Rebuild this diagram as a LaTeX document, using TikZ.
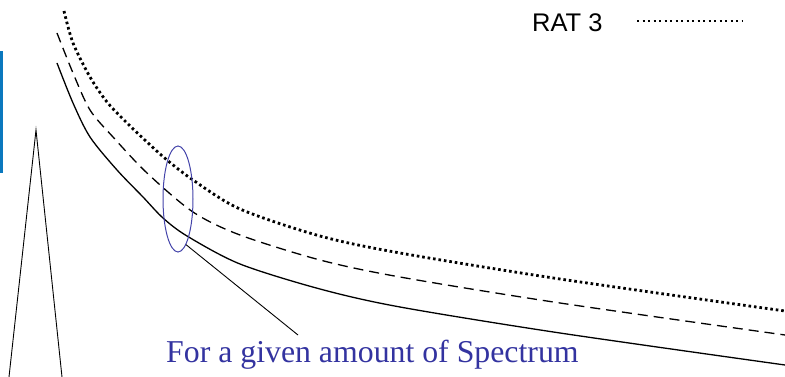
\documentclass[tikz,border=0pt]{standalone}
\usepackage{fontspec}
\setmainfont{Liberation Serif}
\newfontfamily\arial{Liberation Sans}
\usetikzlibrary{shapes.geometric}
\definecolor{barblue}{HTML}{0A78BE}
\definecolor{ellblue}{HTML}{4444AA}
\definecolor{txtblue}{HTML}{3333A0}
\tikzset{
  curvesolid/.style={line width=1.3pt, black},
  curvedashed/.style={line width=1.3pt, black, dash pattern=on 10pt off 6pt},
  curvedotted/.style={line width=2.8pt, black, dash pattern=on 2.6pt off 2.9pt},
  legdotted/.style={line width=2.4pt, black, dash pattern=on 2.2pt off 3.3pt},
  thinline/.style={line width=0.9pt, black},
}
\begin{document}
\begin{tikzpicture}[x=1pt,y=-1pt]
\useasboundingbox (0,0) rectangle (785,377);
% blue bar
\fill[barblue] (0,51) rectangle (3,173);
% tower
\coordinate (apex) at (36,130);
\coordinate (legl) at (9,377);
\coordinate (legr) at (62,377);
\draw[thinline] (legl) -- (apex) -- (legr);
% curves
\draw[curvesolid] plot[smooth, tension=0.5] coordinates {(57,63) (73,103) (90,137) (117,170) (143,197) (163,218) (187,236) (240,264) (320,289) (400,307) (560,333) (785,365)};
\draw[curvedashed] plot[smooth, tension=0.5] coordinates {(57,33) (73,73) (90,110) (113,137) (147,173) (193,212) (240,235) (320,260) (400,277) (560,303) (785,335)};
\draw[curvedotted] plot[smooth, tension=0.5] coordinates {(64,11) (73,43) (90,77) (107,102) (127,123) (148,143) (167,160) (193,180) (240,209) (320,236) (400,253) (560,279) (785,311)};
% ellipse
\node[draw=ellblue, line width=1pt, ellipse, minimum width=30pt, minimum height=106pt, inner sep=0pt] (ell) at (178,199) {};
% label
\node[anchor=base west, inner sep=0pt, text=txtblue, font=\fontsize{31.8}{38}\selectfont] (lbl) at (166,362) {For a given amount of Spectrum};
\coordinate (ptr) at (298,335);
\draw[thinline] (ell.-80) -- (ptr);
% legend
\node[anchor=base west, inner sep=0pt, font=\arial\fontsize{25.5}{30}\selectfont] (rat) at (532,32) {RAT 3};
\coordinate (l1) at (637,21);
\coordinate (l2) at (742,21);
\draw[legdotted] (l1) -- (l2);
\end{tikzpicture}
\end{document}
